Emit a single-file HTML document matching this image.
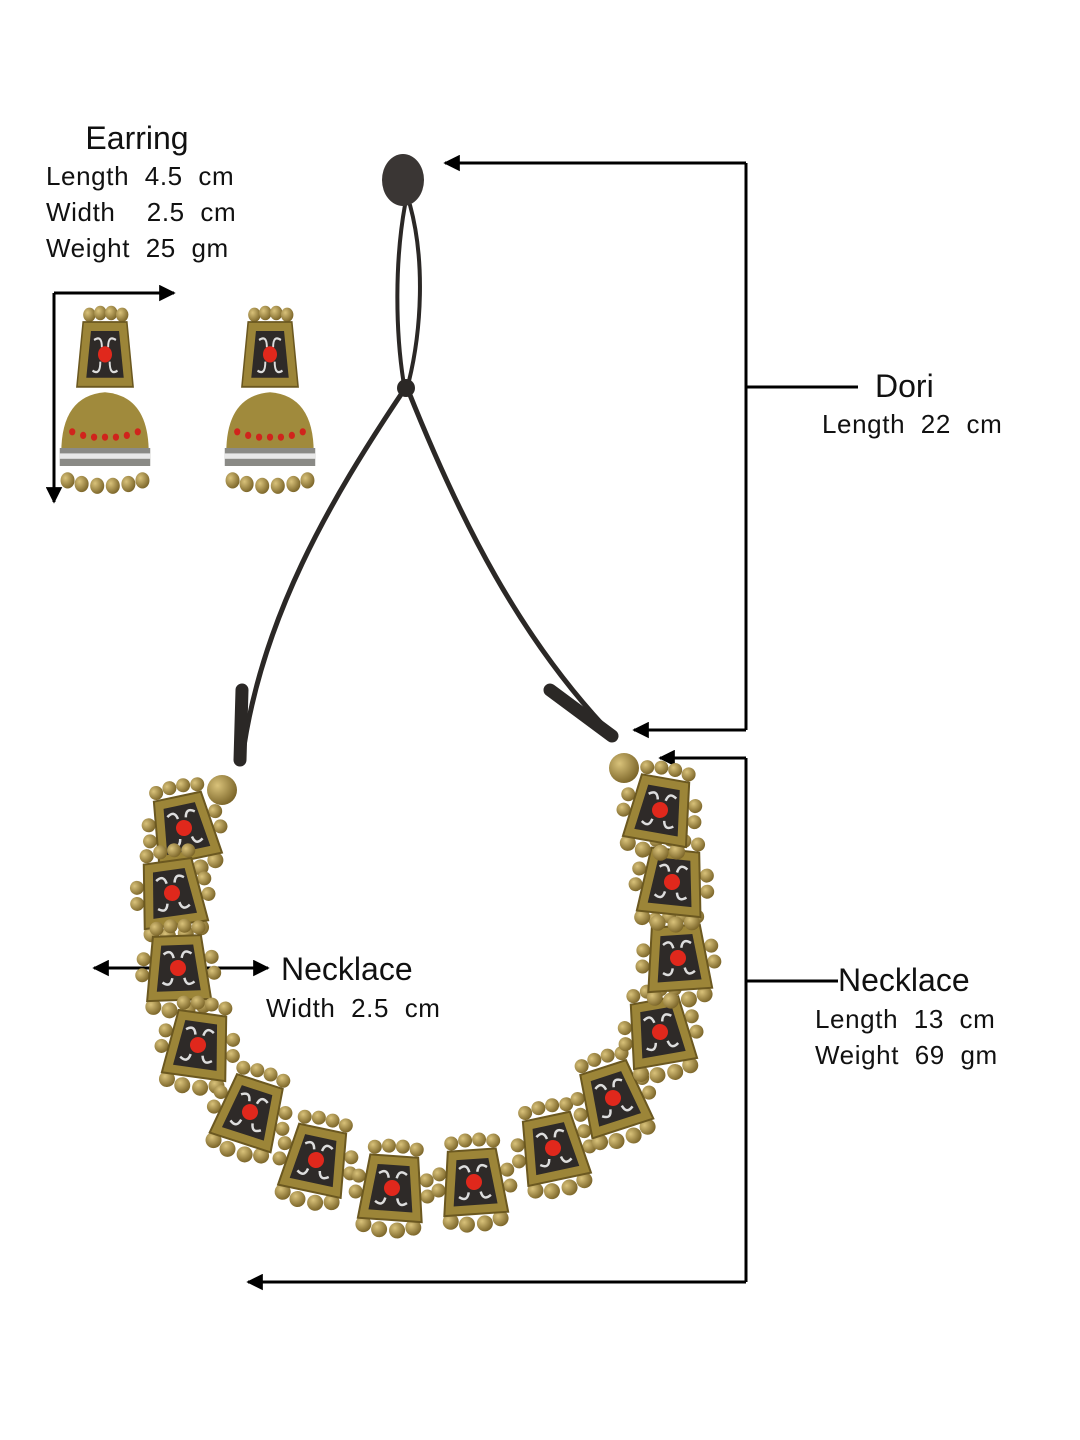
<!DOCTYPE html>
<html><head><meta charset="utf-8"><style>
html,body{margin:0;padding:0;background:#fff;}
svg{display:block;}
text{font-family:"Liberation Sans",sans-serif;fill:#111;white-space:pre;}
.s{letter-spacing:0.6px;}
</style></head><body>
<svg width="1080" height="1440" viewBox="0 0 1080 1440" xmlns="http://www.w3.org/2000/svg" xml:space="preserve">
<defs>
<marker id="ah" viewBox="0 0 10 10" refX="9" refY="5" markerWidth="5.5" markerHeight="5.5" orient="auto-start-reverse"><path d="M0,0 L10,5 L0,10 z" fill="#000"/></marker>
<radialGradient id="gb" cx="0.35" cy="0.35" r="0.7"><stop offset="0" stop-color="#d9c27a"/><stop offset="1" stop-color="#7a6428"/></radialGradient>
<g id="pend">
 <circle cx="-20" cy="-40" r="7" fill="url(#gb)"/><circle cx="-6" cy="-42" r="7" fill="url(#gb)"/><circle cx="8" cy="-42" r="7" fill="url(#gb)"/><circle cx="22" cy="-40" r="7" fill="url(#gb)"/>
 <circle cx="-34" cy="-10" r="7" fill="url(#gb)"/><circle cx="-36" cy="6" r="7" fill="url(#gb)"/><circle cx="34" cy="-10" r="7" fill="url(#gb)"/><circle cx="36" cy="6" r="7" fill="url(#gb)"/>
 <circle cx="-26" cy="38" r="8" fill="url(#gb)"/><circle cx="-10" cy="42" r="8" fill="url(#gb)"/><circle cx="8" cy="42" r="8" fill="url(#gb)"/><circle cx="24" cy="38" r="8" fill="url(#gb)"/>
 <path d="M-24,-32 L24,-32 L32,32 L-32,32 z" fill="#9c8538" stroke="#6b5820" stroke-width="2"/>
 <path d="M-16,-23 L16,-23 L22,23 L-22,23 z" fill="#2e2a28"/>
 <path d="M-14,-14 q8,-6 10,4 M14,-14 q-8,-6 -10,4 M-16,14 q8,6 10,-4 M16,14 q-8,6 -10,-4" stroke="#ddd" stroke-width="2.5" fill="none"/>
 <circle cx="0" cy="0" r="8" fill="#e0281c"/>
</g>
<g id="ear">
 <circle cx="-20" cy="-8" r="8" fill="url(#gb)"/><circle cx="-6" cy="-10" r="8" fill="url(#gb)"/><circle cx="8" cy="-10" r="8" fill="url(#gb)"/><circle cx="22" cy="-8" r="8" fill="url(#gb)"/>
 <path d="M-28,0 L28,0 L36,72 L-36,72 z" fill="#9c8538" stroke="#6b5820" stroke-width="2"/>
 <path d="M-18,10 L18,10 L24,62 L-24,62 z" fill="#2e2a28"/>
 <path d="M-14,20 q10,-6 10,8 M14,20 q-10,-6 -10,8 M-16,54 q10,6 10,-10 M16,54 q-10,6 -10,-10" stroke="#ddd" stroke-width="2.5" fill="none"/>
 <circle cx="0" cy="36" r="9" fill="#e0281c"/>
 <path d="M-56,150 Q-58,82 0,78 Q58,82 56,150 z" fill="#a08a3c"/>
 <path d="M-58,140 L58,140 L58,160 L-58,160 z" fill="#8a8a86"/>
 <rect x="-58" y="146" width="116" height="6" fill="#e8e8e8"/>
 <g fill="#d0241c"><circle cx="-42" cy="122" r="4"/><circle cx="-28" cy="126" r="4"/><circle cx="-14" cy="128" r="4"/><circle cx="0" cy="128" r="4"/><circle cx="14" cy="128" r="4"/><circle cx="28" cy="126" r="4"/><circle cx="42" cy="122" r="4"/></g>
 <g fill="url(#gb)"><circle cx="-48" cy="176" r="9"/><circle cx="-30" cy="180" r="9"/><circle cx="-10" cy="182" r="9"/><circle cx="10" cy="182" r="9"/><circle cx="30" cy="180" r="9"/><circle cx="48" cy="176" r="9"/></g>
</g>
</defs>

<text x="137" y="149" font-size="32" text-anchor="middle">Earring</text>
<text class="s" x="46" y="185" font-size="26">Length  4.5  cm</text>
<text class="s" x="46" y="221" font-size="26">Width    2.5  cm</text>
<text class="s" x="46" y="257" font-size="26">Weight  25  gm</text>

<g stroke="#000" stroke-width="3" fill="none">
 <line x1="54" y1="293" x2="54" y2="502" marker-end="url(#ah)"/>
 <line x1="54" y1="293" x2="174" y2="293" marker-end="url(#ah)"/>
 <line x1="746" y1="163" x2="445" y2="163" marker-end="url(#ah)"/>
 <line x1="746" y1="163" x2="746" y2="730"/>
 <line x1="746" y1="730" x2="634" y2="730" marker-end="url(#ah)"/>
 <line x1="746" y1="387" x2="858" y2="387"/>
 <line x1="746" y1="758" x2="660" y2="758" marker-end="url(#ah)"/>
 <line x1="746" y1="758" x2="746" y2="1282"/>
 <line x1="746" y1="1282" x2="248" y2="1282" marker-end="url(#ah)"/>
 <line x1="746" y1="981" x2="838" y2="981"/>
 <line x1="94" y1="968" x2="268" y2="968" marker-start="url(#ah)" marker-end="url(#ah)"/>
</g>

<text x="875" y="397" font-size="32">Dori</text>
<text class="s" x="822" y="433" font-size="26">Length  22  cm</text>
<text x="838" y="991" font-size="32">Necklace</text>
<text class="s" x="815" y="1028" font-size="26">Length  13  cm</text>
<text class="s" x="815" y="1064" font-size="26">Weight  69  gm</text>
<text x="281" y="980" font-size="32">Necklace</text>
<text class="s" x="266" y="1017" font-size="26">Width  2.5  cm</text>

<use href="#ear" transform="translate(105,322) scale(0.78,0.9)"/>
<use href="#ear" transform="translate(270,322) scale(0.78,0.9)"/>

<g stroke="#2b2826" fill="none" stroke-linecap="round">
 <path d="M405,205 C395,260 395,330 404,385 M410,205 C425,260 422,330 408,385" stroke-width="4"/>
 <path d="M404,390 C330,500 260,620 242,760" stroke-width="5"/>
 <path d="M408,390 C460,520 520,640 615,738" stroke-width="5"/>
 <path d="M242,690 L240,760" stroke-width="13"/>
 <path d="M550,690 L612,736" stroke-width="13"/>
</g>
<ellipse cx="403" cy="180" rx="21" ry="26" fill="#3a3634"/>
<circle cx="406" cy="388" r="9" fill="#2b2826"/>
<circle cx="222" cy="790" r="15" fill="url(#gb)"/>
<circle cx="624" cy="768" r="15" fill="url(#gb)"/>

<use href="#pend" transform="translate(184,828) rotate(-12)"/>
<use href="#pend" transform="translate(172,893) rotate(-8)"/>
<use href="#pend" transform="translate(178,968) rotate(-2)"/>
<use href="#pend" transform="translate(198,1045) rotate(8)"/>
<use href="#pend" transform="translate(250,1112) rotate(18)"/>
<use href="#pend" transform="translate(316,1160) rotate(12)"/>
<use href="#pend" transform="translate(392,1188) rotate(4)"/>
<use href="#pend" transform="translate(474,1182) rotate(-4)"/>
<use href="#pend" transform="translate(553,1148) rotate(-12)"/>
<use href="#pend" transform="translate(613,1098) rotate(-18)"/>
<use href="#pend" transform="translate(660,1032) rotate(-10)"/>
<use href="#pend" transform="translate(678,958) rotate(-4)"/>
<use href="#pend" transform="translate(672,882) rotate(6)"/>
<use href="#pend" transform="translate(660,810) rotate(10)"/>
</svg>
</body></html>
